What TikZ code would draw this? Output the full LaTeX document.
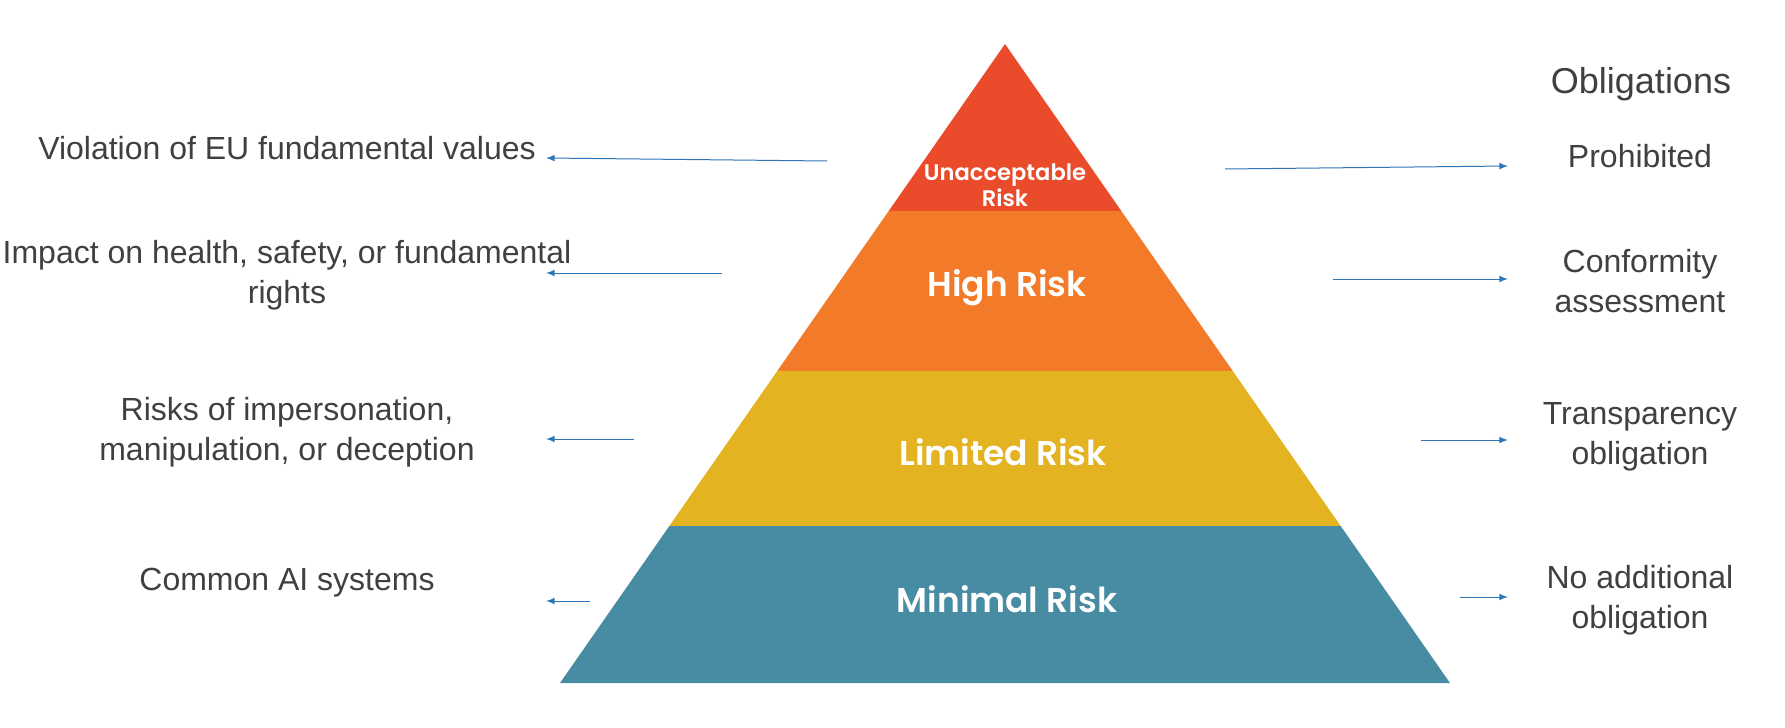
\documentclass[tikz,border=0pt]{standalone}
\usepackage{fontspec}
\setmainfont{Liberation Sans}
\newfontfamily\tierfont{Poppins}[BoldFont={* SemiBold}]
\usetikzlibrary{arrows, positioning, calc}
\definecolor{tier_red}{HTML}{E94B2B}
\definecolor{tier_orange}{HTML}{F27A28}
\definecolor{tier_yellow}{HTML}{E4B322}
\definecolor{tier_teal}{HTML}{488CA4}
\definecolor{label_gray}{HTML}{404040}
\definecolor{pointer_blue}{HTML}{2E75B6}
\tikzset{
  tier/.style={fill=#1,draw=none},
  tierlabel/.style={text=white,inner sep=0pt,align=center,font=\tierfont\bfseries\fontsize{17.2}{21}\selectfont},
  tierlabel_s/.style={tierlabel,font=\tierfont\bfseries\fontsize{11.3}{13}\selectfont},
  reason/.style={text=label_gray,inner sep=0pt,align=center,font=\fontsize{16}{20}\selectfont},
  duty/.style={reason},
  dutyhead/.style={reason,font=\fontsize{18}{22}\selectfont},
  pointer/.style={-latex,line width=0.5pt,draw=pointer_blue},
}

\begin{document}
\begin{tikzpicture}[x=0.5pt,y=-0.5pt]
	    \useasboundingbox (0,0) rectangle (1785,728);
	    % pyramid
	    \coordinate (apex) at (1005,44);
	    \coordinate (bl) at (560,683);
	    \coordinate (br) at (1450,683);
	    \coordinate (l1) at ($(apex)!0.2613!(bl)$);
	    \coordinate (r1) at ($(apex)!0.2613!(br)$);
	    \coordinate (l2) at ($(apex)!0.5117!(bl)$);
	    \coordinate (r2) at ($(apex)!0.5117!(br)$);
	    \coordinate (l3) at ($(apex)!0.7543!(bl)$);
	    \coordinate (r3) at ($(apex)!0.7543!(br)$);
	    \fill[tier=tier_red] (apex) -- (r1) -- (l1) -- cycle;
	    \fill[tier=tier_orange] (l1) -- (r1) -- (r2) -- (l2) -- cycle;
	    \fill[tier=tier_yellow] (l2) -- (r2) -- (r3) -- (l3) -- cycle;
	    \fill[tier=tier_teal] (l3) -- (r3) -- (br) -- (bl) -- cycle;
	    \node[tierlabel_s] (U) at (1005,185) {Unacceptable\\Risk};
	    \node[tierlabel] (H) at (1007,288) {High Risk};
	    \node[tierlabel] (L) at (1003,452) {Limited Risk};
	    \node[tierlabel] (M) at (1007,599) {Minimal Risk};
	    % reasons
	    \node[reason] (violation) at (287,148) {Violation of EU fundamental values};
	    \node[reason] (impact) at (287,275) {Impact on health, safety, or fundamental\\rights};
	    \node[reason] (deception) at (287,432) {Risks of impersonation,\\manipulation, or deception};
	    \node[reason] (common) at (287,583) {Common AI systems};
	    % obligations
	    \node[dutyhead] (obligations) at (1641,84) {Obligations};
	    \node[duty] (prohibited) at (1640,156) {Prohibited};
	    \node[duty] (conformity) at (1640,281) {Conformity\\assessment};
	    \node[duty] (transparency) at (1640,437) {Transparency\\obligation};
	    \node[duty] (noobl) at (1640,600) {No additional\\obligation};
	    % pointers
	    \coordinate (U_l) at (827,161); \coordinate (violation_e) at (546,158);
	    \coordinate (H_l) at (722,273); \coordinate (impact_e) at (546,273);
	    \coordinate (L_l) at (634,439); \coordinate (deception_e) at (546,439);
	    \coordinate (M_l) at (590,601); \coordinate (common_e) at (546,601);
	    \coordinate (U_r) at (1225,169); \coordinate (prohibited_w) at (1508,166);
	    \coordinate (H_r) at (1333,279); \coordinate (conformity_w) at (1508,279);
	    \coordinate (L_r) at (1421,440); \coordinate (transparency_w) at (1508,440);
	    \coordinate (M_r) at (1460,597); \coordinate (noobl_w) at (1508,597);
	    \draw[pointer] (U_l) -- (violation_e);
	    \draw[pointer] (H_l) -- (impact_e);
	    \draw[pointer] (L_l) -- (deception_e);
	    \draw[pointer] (M_l) -- (common_e);
	    \draw[pointer] (U_r) -- (prohibited_w);
	    \draw[pointer] (H_r) -- (conformity_w);
	    \draw[pointer] (L_r) -- (transparency_w);
	    \draw[pointer] (M_r) -- (noobl_w);
	\end{tikzpicture}
\end{document}
